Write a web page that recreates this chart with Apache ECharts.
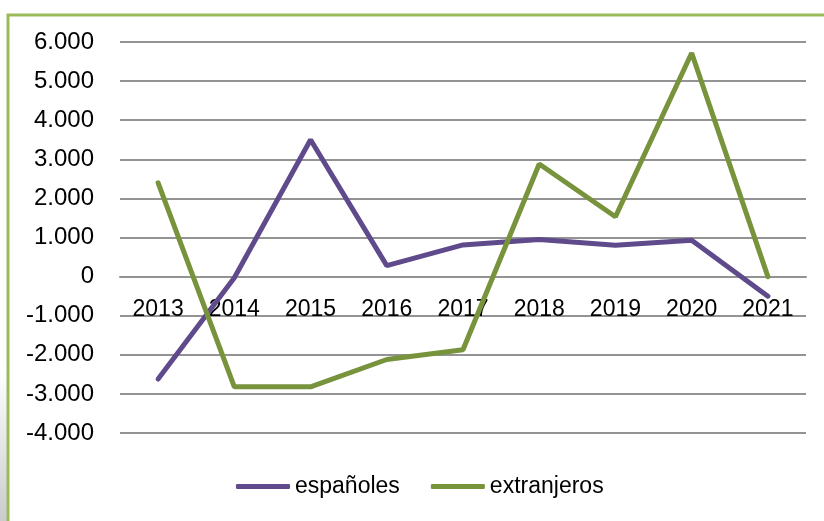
<!DOCTYPE html>
<html>
<head>
<meta charset="utf-8">
<script src="https://cdn.jsdelivr.net/npm/echarts@6/dist/echarts.min.js"></script>
<style>
html,body{margin:0;padding:0;background:#fff;}
#c{width:824px;height:521px;}
</style>
</head>
<body>
<div id="c"></div>
<script>
var years = ['2013','2014','2015','2016','2017','2018','2019','2020','2021'];
var espanoles = [-2620, -30, 3500, 280, 810, 950, 800, 930, -500];
var extranjeros = [2400, -2820, -2820, -2120, -1870, 2880, 1530, 5720, 0];
var seriesNames = ['españoles', 'extranjeros'];

function fmt(v){
  if (v === 0) return '0';
  var s = Math.abs(v).toString();
  s = s.replace(/\B(?=(\d{3})+(?!\d))/g, '.');
  return (v < 0 ? '-' : '') + s;
}

var chart = echarts.init(document.getElementById('c'), null, {renderer:'canvas'});
var font = 'Liberation Sans';
var yMin = -4000, yMax = 6000;
var gridTop = 42, gridBottom = 88, H = 521;
var plotH = H - gridTop - gridBottom;
var zeroOffset = -plotH * (0 - yMin) / (yMax - yMin);
chart.setOption({
  animation: false,
  backgroundColor: '#fff',
  textStyle: {fontFamily: font},
  graphic: [
    {type:'rect', shape:{x:0, y:370, width:7, height:160},
     style:{fill:{type:'linear', x:0, y:0, x2:0, y2:1, colorStops:[{offset:0,color:'rgba(200,200,200,0)'},{offset:1,color:'rgba(200,200,200,1)'}]}}, z:0},
    {type:'rect', shape:{x:8, y:15, width:830, height:530},
     style:{fill:'none', stroke:'#9BBB59', lineWidth:3}, z:1}
  ],
  grid: {left:120, right:18, top:gridTop, bottom:gridBottom},
  xAxis: {
    type:'category', data: years, boundaryGap: true,
    offset: zeroOffset,
    axisLine:{onZero:false, lineStyle:{color:'#939393', width:2}},
    axisTick:{show:false},
    axisLabel:{color:'#000', fontSize:23, margin:22, fontFamily:font}
  },
  yAxis: {
    type:'value', min:yMin, max:yMax, interval:1000,
    axisLine:{show:false}, axisTick:{show:false},
    splitLine:{lineStyle:{color:'#939393', width:2}},
    axisLabel:{color:'#000', fontSize:24, margin:26, fontFamily:font, formatter: fmt}
  },
  legend: {
    bottom: 18, left: 231,
    itemWidth: 54, itemHeight: 5, itemGap: 31,
    icon: 'roundRect',
    textStyle:{color:'#000', fontSize:23, fontFamily:font},
    data: seriesNames
  },
  series: [
    {name: seriesNames[0], type:'line', data: espanoles, symbol:'none',
     lineStyle:{color:'#5F4B8B', width:5, cap:'round'}, itemStyle:{color:'#5F4B8B'}},
    {name: seriesNames[1], type:'line', data: extranjeros, symbol:'none',
     lineStyle:{color:'#77933C', width:5, cap:'round'}, itemStyle:{color:'#77933C'}}
  ]
});
</script>
</body>
</html>
